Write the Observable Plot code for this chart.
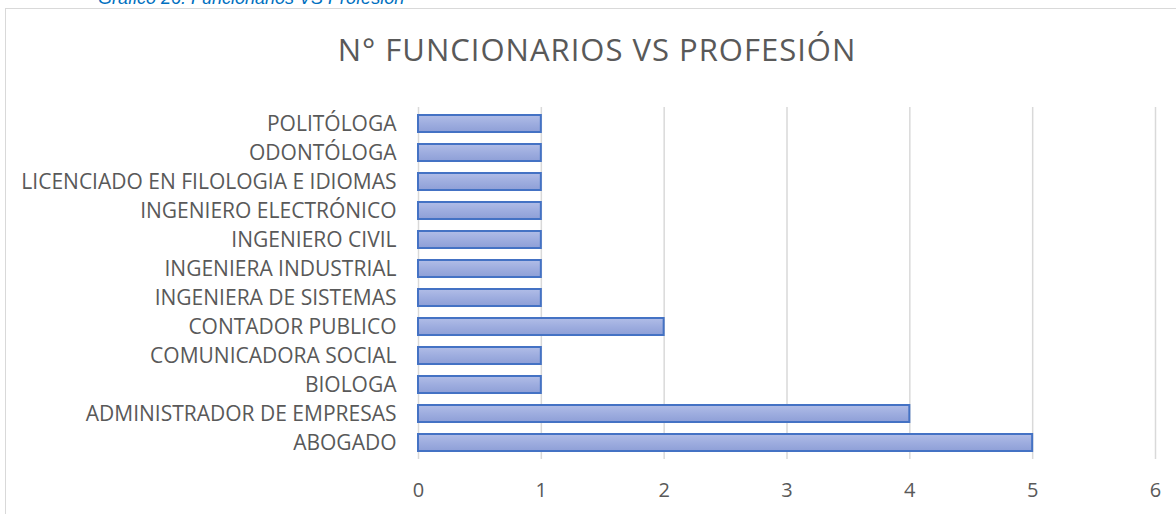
<!DOCTYPE html>
<html><head><meta charset="utf-8">
<script src="https://cdn.jsdelivr.net/npm/d3@7"></script>
<script src="https://cdn.jsdelivr.net/npm/@observablehq/plot@0.6"></script>
<style>
html,body{margin:0;padding:0;background:#fff;overflow:hidden}
body{width:1176px;height:514px;position:relative;font-family:"Open Sans",sans-serif}
#frame{position:absolute;left:5px;top:8px;width:1300px;height:700px;border:1.5px solid #d9d9d9;box-sizing:border-box}
#caption{position:absolute;left:98px;top:-12px;color:#0070c0;font-style:italic;font-size:18px;line-height:20px;font-family:"Liberation Sans",Arial,sans-serif;white-space:nowrap;z-index:5}
#title{position:absolute;left:0;top:34px;width:1194px;text-align:center;font-size:31px;letter-spacing:1px;line-height:31px;color:#595959;font-family:"Open Sans",sans-serif;white-space:nowrap}
#chart{position:absolute;left:0;top:0}
</style>
</head><body>
<div id="frame"></div>
<div id="chart"></div>
<div id="caption">Gráfico 26. Funcionarios VS Profesión</div>
<div id="title">N° FUNCIONARIOS VS PROFESIÓN</div>
<script>
const categories = [
  "POLITÓLOGA",
  "ODONTÓLOGA",
  "LICENCIADO EN FILOLOGIA E IDIOMAS",
  "INGENIERO ELECTRÓNICO",
  "INGENIERO CIVIL",
  "INGENIERA INDUSTRIAL",
  "INGENIERA DE SISTEMAS",
  "CONTADOR PUBLICO",
  "COMUNICADORA SOCIAL",
  "BIOLOGA",
  "ADMINISTRADOR DE EMPRESAS",
  "ABOGADO"
];
const values = [1, 1, 1, 1, 1, 1, 1, 2, 1, 1, 4, 5];
const xTicks = [0, 1, 2, 3, 4, 5, 6];

const data = categories.map((c, i) => ({cat: c, value: values[i]}));

const chart = Plot.plot({
  width: 1176,
  height: 514,
  marginLeft: 418,
  marginRight: 21,
  marginTop: 107,
  marginBottom: 55,
  style: {fontFamily: '"Open Sans", sans-serif', fontSize: "20px", color: "#595959", background: "transparent", overflow: "visible"},
  x: {domain: [0, 6], ticks: xTicks, label: null},
  y: {domain: categories, label: null, paddingInner: 0.4, paddingOuter: 0.2},
  marks: [
    Plot.gridX(xTicks, {stroke: "#d9d9d9", strokeOpacity: 1, strokeWidth: 1.5}),
    Plot.barX(data, {x: "value", y: "cat", fill: "url(#barGrad)", stroke: "#4472c4", strokeWidth: 2}),
    Plot.axisX(xTicks, {tickSize: 0, tickPadding: 23, label: null, fontSize: 20, fill: "#595959", tickFormat: d => String(d)}),
    Plot.axisY({tickSize: 0, tickPadding: 22, label: null, fontSize: 21, fill: "#595959"})
  ]
});

const defs = d3.select(chart).insert("defs", ":first-child");
const grad = defs.append("linearGradient").attr("id", "barGrad")
  .attr("x1", 0).attr("y1", 0).attr("x2", 0).attr("y2", 1);
grad.append("stop").attr("offset", "0%").attr("stop-color", "#b1bde7");
grad.append("stop").attr("offset", "50%").attr("stop-color", "#9eaddf");
grad.append("stop").attr("offset", "100%").attr("stop-color", "#8e9fd7");

document.getElementById("chart").appendChild(chart);
</script>
</body></html>
